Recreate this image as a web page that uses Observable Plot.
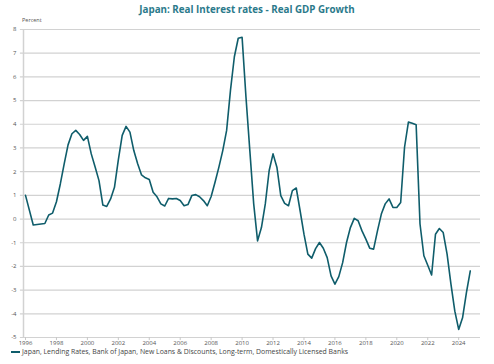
<!DOCTYPE html>
<html>
<head>
<meta charset="utf-8">
<script src="https://cdn.jsdelivr.net/npm/d3@7"></script>
<script src="https://cdn.jsdelivr.net/npm/@observablehq/plot@0.6"></script>
<style>
  html, body { margin: 0; padding: 0; background: #fff; }
  #wrap { position: relative; width: 494px; height: 364px; background: #fff; font-family: "Open Sans", "Noto Sans", sans-serif; overflow: hidden; }
  #title { position: absolute; top: 3px; left: 0; width: 494px; text-align: center; font-weight: bold; font-size: 9.8px; color: #2b7a8b; }
  #unit { position: absolute; top: 16px; left: 22px; font-size: 5.5px; color: #555; }
  #chart { position: absolute; top: 20px; left: 0; }
  #legend { position: absolute; top: 347px; left: 11px; font-size: 6.9px; color: #444; display: flex; align-items: center; white-space: nowrap; }
  #legend .sw { display: inline-block; width: 9px; height: 2px; background: #0f5d6b; margin-right: 2px; }
</style>
</head>
<body>
<div id="wrap">
  <div id="title">Japan: Real Interest rates - Real GDP Growth</div>
  <div id="unit">Percent</div>
  <div id="chart"></div>
  <div id="legend"><span class="sw"></span><span>Japan, Lending Rates, Bank of Japan, New Loans &amp; Discounts, Long-term, Domestically Licensed Banks</span></div>
</div>
<script>
const dates = [
  1996.0, 1996.5, 1996.75, 1997.25, 1997.5, 1997.75,
  1998.0, 1998.25, 1998.5, 1998.75, 1999.0, 1999.25, 1999.5, 1999.75,
  2000.0, 2000.25, 2000.5, 2000.75, 2001.0, 2001.25, 2001.5, 2001.75,
  2002.0, 2002.25, 2002.5, 2002.75, 2003.0, 2003.25, 2003.5, 2003.75,
  2004.0, 2004.25, 2004.5, 2004.75, 2005.0, 2005.25, 2005.5, 2005.75,
  2006.0, 2006.25, 2006.5, 2006.75, 2007.0, 2007.25, 2007.5, 2007.75,
  2008.0, 2008.25, 2008.5, 2008.75, 2009.0, 2009.25, 2009.5, 2009.75,
  2010.0, 2010.25, 2010.5, 2010.75, 2011.0, 2011.25, 2011.5, 2011.75,
  2012.0, 2012.25, 2012.5, 2012.75, 2013.0, 2013.25, 2013.5, 2013.75,
  2014.0, 2014.25, 2014.5, 2014.75, 2015.0, 2015.25, 2015.5, 2015.75,
  2016.0, 2016.25, 2016.5, 2016.75, 2017.0, 2017.25, 2017.5, 2017.75,
  2018.0, 2018.25, 2018.5, 2018.75, 2019.0, 2019.25, 2019.5, 2019.75,
  2020.0, 2020.25, 2020.5, 2020.75, 2021.0, 2021.25, 2021.5, 2021.75,
  2022.0, 2022.25, 2022.5, 2022.75, 2023.0, 2023.25, 2023.5, 2023.75,
  2024.0, 2024.25, 2024.5, 2024.75
];
const rates = [
  1.0, -0.25, -0.23, -0.19, 0.17, 0.25,
  0.73, 1.48, 2.33, 3.13, 3.6, 3.74, 3.57, 3.32,
  3.49, 2.75, 2.2, 1.62, 0.59, 0.53, 0.85, 1.34,
  2.5, 3.53, 3.91, 3.67, 2.89, 2.33, 1.86, 1.74,
  1.67, 1.13, 0.94, 0.64, 0.55, 0.87, 0.85, 0.87,
  0.78, 0.56, 0.61, 0.99, 1.03, 0.94, 0.78, 0.56,
  0.95, 1.55, 2.19, 2.89, 3.74, 5.44, 6.85, 7.63,
  7.67, 5.15, 2.89, 0.64, -0.92, -0.36, 0.64, 2.05,
  2.75, 2.19, 0.99, 0.66, 0.56, 1.2, 1.31, 0.35,
  -0.64, -1.48, -1.65, -1.25, -0.99, -1.23, -1.63, -2.4,
  -2.75, -2.43, -1.84, -0.99, -0.36, 0.03, -0.07, -0.5,
  -0.85, -1.23, -1.27, -0.5, 0.21, 0.64, 0.85, 0.49,
  0.49, 0.7, 3.03, 4.09, 4.04, 3.98, -0.21, -1.55,
  -1.95, -2.36, -0.64, -0.4, -0.57, -1.48, -2.75, -3.89,
  -4.66, -4.17, -3.11, -2.19
];
const xTicks = [1996, 1998, 2000, 2002, 2004, 2006, 2008, 2010, 2012, 2014, 2016, 2018, 2020, 2022, 2024];
const yTicks = [-5, -4, -3, -2, -1, 0, 1, 2, 3, 4, 5, 6, 7, 8];

const data = dates.map((t, i) => ({t, v: rates[i]}));
const xMin = 1995.87, xMax = 2025.41;

const chart = Plot.plot({
  width: 494,
  height: 330,
  marginTop: 9,
  marginBottom: 13,
  marginLeft: 23,
  marginRight: 14,
  style: {fontFamily: "'Open Sans', 'Noto Sans', sans-serif", fontSize: "6px", color: "#555", background: "transparent", overflow: "visible"},
  x: {domain: [xMin, xMax], label: null},
  y: {domain: [-5, 8], label: null},
  marks: [
    Plot.ruleY(yTicks, {x1: xMin - 0.2, x2: xMax, stroke: "#d2d2d2", strokeWidth: 1.2}),
    Plot.ruleX([xMin], {y1: -5, y2: 8, stroke: "#d2d2d2", strokeWidth: 1.5}),
    Plot.ruleX(xTicks, {y1: -5, y2: -5.13, stroke: "#c8c8c8", strokeWidth: 1}),
    Plot.axisY(yTicks, {tickSize: 0, tickPadding: 7, tickFormat: d => String(d), fill: "#555"}),
    Plot.axisX(xTicks, {tickSize: 0, tickPadding: 3, tickFormat: d => String(d), fill: "#555"}),
    Plot.line(data, {x: "t", y: "v", stroke: "#0f5d6b", strokeWidth: 1.6, curve: "linear"})
  ]
});
document.getElementById("chart").appendChild(chart);
</script>
</body>
</html>
